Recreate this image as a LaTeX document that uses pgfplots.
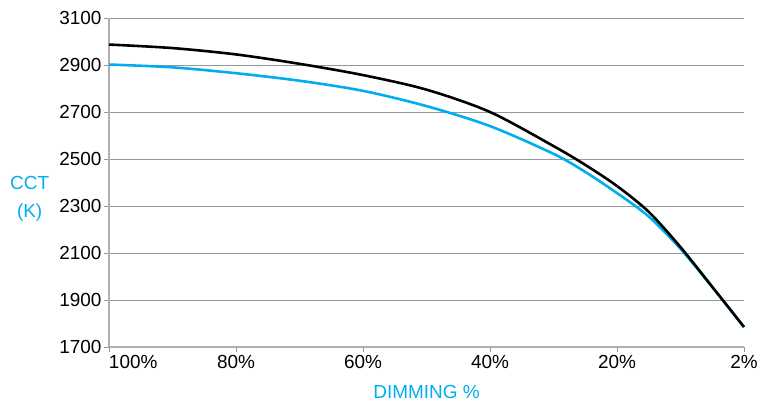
\documentclass[border=0pt]{standalone}
\usepackage{pgfplots}
\pgfplotsset{compat=1.18}
\usepackage{fontspec}
\setmainfont{Liberation Sans}
\definecolor{CYAN}{RGB}{0,174,239}
\definecolor{GRID}{RGB}{150,150,150}
\definecolor{AXIS}{RGB}{175,175,175}

\begin{document}
\begin{tikzpicture}
\begin{axis}[
    name=ax,
    scale only axis,
    width=635bp, height=329bp,
    xmin=0, xmax=100,
    ymin=1700, ymax=3100,
    xtick={0,20,40,60,80,100},
    xticklabels={\makebox[0pt][l]{100\%},80\%,60\%,40\%,20\%,2\%},
    ytick={1700,1900,2100,2300,2500,2700,2900,3100},
    /pgf/number format/assume math mode=true,
    /pgf/number format/set thousands separator={},
    ymajorgrids,
    major grid style={GRID, line width=0.8pt},
    axis x line*=bottom,
    axis y line*=left,
    axis line style={AXIS, line width=1.2pt, -},
    tick style={GRID, line width=0.8pt},
    tick align=outside,
    major tick length=5bp,
    tick label style={font=\fontsize{19}{21}\selectfont, text=black},
    yticklabel style={xshift=1bp},
    xlabel={DIMMING \%},
    xlabel style={font=\fontsize{19}{21}\selectfont, text=CYAN,
        at={(axis description cs:0.5,-0.137)}, anchor=center},
    ylabel={CCT\\(K)},
    ylabel style={font=\fontsize{19}{28}\selectfont, text=CYAN, rotate=-90,
        align=center, at={(axis description cs:-0.125,0.45)}, anchor=center},
    clip=false,
]
% cyan curve
\addplot[CYAN, line width=2.6pt, smooth, tension=0.5, line join=round] coordinates {
    (0,2902) (10,2890) (20,2865) (30,2833) (40,2790) (50,2725) (60,2640)
    (70,2522) (75,2445) (80,2355) (85,2255) (90,2118) (95,1955) (100,1785)
};
% black curve
\addplot[black, line width=2.6pt, smooth, tension=0.5, line join=round] coordinates {
    (0,2987) (10,2972) (20,2945) (30,2905) (40,2857) (50,2795) (60,2700)
    (70,2555) (75,2475) (80,2385) (85,2275) (90,2125) (95,1956) (100,1785)
};
\end{axis}
\path (ax.south west) ++(-109bp,-55bp);
\path (ax.north east) ++(28bp,18bp);
\end{tikzpicture}
\end{document}
